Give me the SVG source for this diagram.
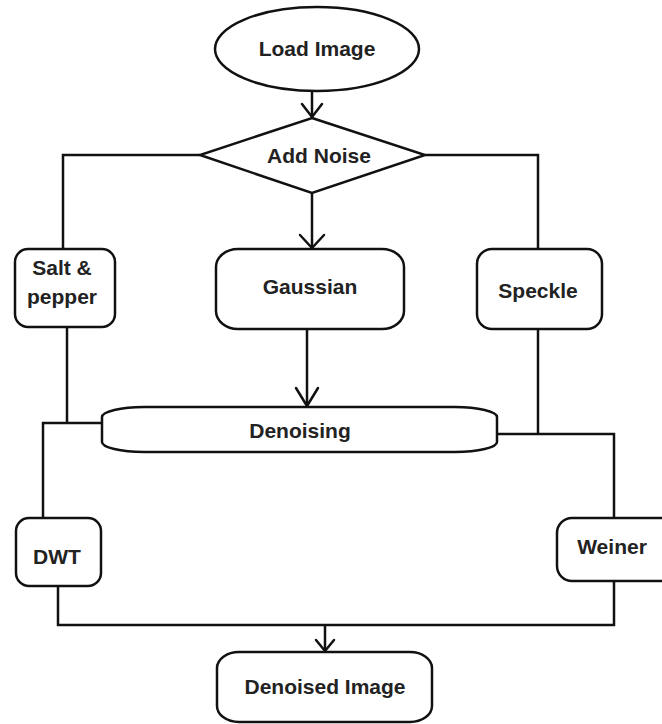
<svg xmlns="http://www.w3.org/2000/svg" width="662" height="724" viewBox="0 0 662 724">
<defs>
<style>
.n{fill:#fff;stroke:#111;stroke-width:2.5}
.t{font-family:"Liberation Sans",Arial,sans-serif;font-weight:bold;font-size:21px;fill:#222;text-anchor:middle}
.c{fill:none;stroke:#111;stroke-width:2.5}
.h{fill:none;stroke:#111;stroke-width:2.5;stroke-linecap:round;stroke-linejoin:round}
</style>
</defs>
<rect width="662" height="724" fill="#fff"/>
<g id="connectors">
<path class="c" d="M312,92 V117"/>
<path class="h" d="M302,104 L312,117 L322,104"/>
<path class="c" d="M200,155 H63 V249"/>
<path class="c" d="M425,155 H538 V249"/>
<path class="c" d="M312,193 V248"/>
<path class="h" d="M300,235 L312,248 L324,235"/>
<path class="c" d="M307,329 V406"/>
<path class="h" d="M296,388 L307,406 L318,388"/>
<path class="c" d="M67,327 V423"/>
<path class="c" d="M102,423 H43 V518"/>
<path class="c" d="M538,329 V434"/>
<path class="c" d="M497,434 H614 V518"/>
<path class="c" d="M58,586 V625 H614 V581"/>
<path class="c" d="M325,625 V651"/>
<path class="h" d="M316,640 L325,651 L334,640"/>
</g>
<g id="load-image">
<ellipse class="n" cx="317" cy="49" rx="102" ry="42"/>
<text class="t" x="317" y="56">Load Image</text>
</g>
<g id="add-noise">
<polygon class="n" points="312,118 425,155 312,193 200,155"/>
<text class="t" x="319" y="163">Add Noise</text>
</g>
<g id="salt-pepper">
<rect class="n" x="15" y="249" width="100" height="78" rx="13"/>
<text class="t" x="62" y="275">Salt &amp;</text>
<text class="t" x="62" y="304">pepper</text>
</g>
<g id="gaussian">
<rect class="n" x="216" y="249" width="188" height="80" rx="22" ry="18"/>
<text class="t" x="310" y="294">Gaussian</text>
</g>
<g id="speckle">
<rect class="n" x="477" y="249" width="125" height="80" rx="15"/>
<text class="t" x="538" y="298">Speckle</text>
</g>
<g id="denoising">
<rect class="n" x="102" y="407" width="395" height="45" rx="42" ry="10"/>
<text class="t" x="300" y="438">Denoising</text>
</g>
<g id="dwt">
<rect class="n" x="16" y="518" width="85" height="68" rx="13"/>
<text class="t" x="57" y="564">DWT</text>
</g>
<g id="weiner">
<rect class="n" x="557" y="518" width="120" height="63" rx="15"/>
<text class="t" x="612" y="554">Weiner</text>
</g>
<g id="denoised-image">
<rect class="n" x="217" y="652" width="215" height="70" rx="22" ry="16"/>
<text class="t" x="325" y="694">Denoised Image</text>
</g>
</svg>
